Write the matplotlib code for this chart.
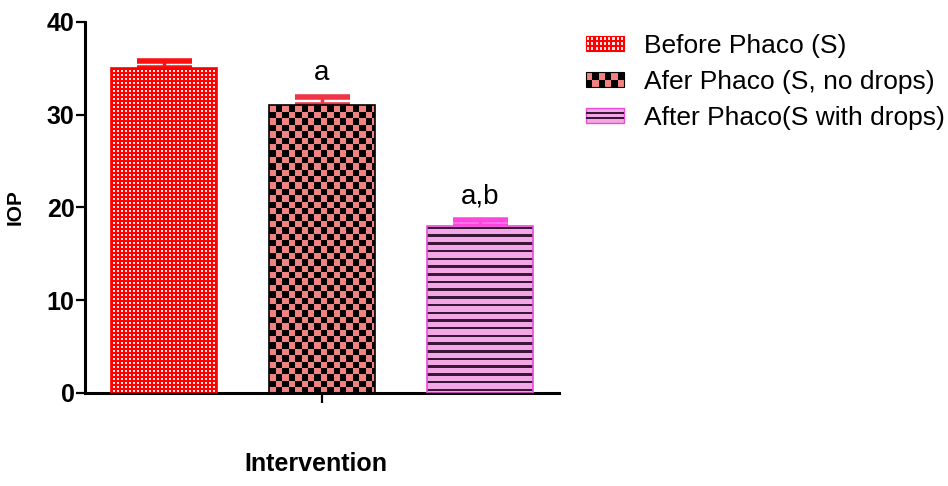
import numpy as np
import matplotlib.pyplot as plt
from matplotlib.patches import Rectangle
from matplotlib.legend_handler import HandlerBase
from matplotlib.colors import to_rgb

plt.rcParams['font.family'] = ['Liberation Sans', 'DejaVu Sans']

# data
groups = ['Before Phaco (S)', 'Afer Phaco (S, no drops)', 'After Phaco(S with drops)']
iop_mean = [35.0, 31.0, 18.0]
iop_err = [0.8, 0.9, 0.6]
letters = ['', 'a', 'a,b']

# styles
patterns = ['fine', 'checker', 'lines']
edge_cols = ['#ff0000', '#000000', '#e64fd6']
err_cols = ['#ff1010', '#f23545', '#ff45e0']


def make_pattern(kind, w, h):
    """rgb image, one cell per screen pixel, row 0 = top"""
    yy, xx = np.mgrid[0:h, 0:w]
    img = np.zeros((h, w, 3))
    if kind == 'fine':
        a, b = np.array(to_rgb('#ff0000')), np.array(to_rgb('#ffe6e6'))
        m = ((xx % 4) >= 2) & ((yy % 4) >= 2)
    elif kind == 'checker':
        a, b = np.array(to_rgb('#f08282')), np.array(to_rgb('#000000'))
        m = ((xx // 6.4).astype(int) + (yy // 6.4).astype(int)) % 2 == 1
    else:
        a, b = np.array(to_rgb('#f2a8e6')), np.array(to_rgb('#3c1636'))
        m = ((yy - 8) % 7.7) < 2.5
    img[:] = a
    img[m] = b
    return img


class PatternHandler(HandlerBase):
    def create_artists(self, legend, orig_handle, xdescent, ydescent,
                       width, height, fontsize, trans):
        kind = orig_handle.kind
        x0, y0 = -xdescent, -ydescent
        arts = []
        if kind == 'fine':
            arts.append(Rectangle((x0, y0), width, height, fc='#ff0000', ec='#ff0000', lw=0.8))
            nx, ny = 9, 3
            dx, dy = width / nx, height / ny
            for i in range(nx):
                for j in range(ny):
                    arts.append(Rectangle((x0 + i * dx + dx * 0.3, y0 + j * dy + dy * 0.3),
                                          dx * 0.5, dy * 0.5, fc='#ffe6e6', lw=0))
        elif kind == 'checker':
            arts.append(Rectangle((x0, y0), width, height, fc='#f08282', ec='#000000', lw=0.8))
            nx, ny = 6, 2
            dx, dy = width / nx, height / ny
            for i in range(nx):
                for j in range(ny):
                    if (i + j) % 2 == 0:
                        arts.append(Rectangle((x0 + i * dx, y0 + j * dy), dx, dy, fc='#000000', lw=0))
        else:
            arts.append(Rectangle((x0, y0), width, height, fc='#f2a8e6', ec='#e64fd6', lw=1.0))
            for f in [1 / 3, 2 / 3]:
                arts.append(Rectangle((x0, y0 + height * f - 0.9), width, 1.8, fc='#3c1636', lw=0))
        for a in arts:
            a.set_transform(trans)
        return arts


fig = plt.figure(figsize=(9.48, 4.86), dpi=100)
ax = fig.add_axes([0.0897, 0.1914, 0.5, 0.7634])

x = np.arange(len(groups))
bw = 0.67
ax.set_xlim(-0.5, 2.5)
ax.set_ylim(0, 40)

bars = ax.bar(x, iop_mean, width=bw, color='none', edgecolor=edge_cols, linewidth=1.2, zorder=3)

for i, b in enumerate(bars):
    x0, x1 = x[i] - bw / 2, x[i] + bw / 2
    p0 = ax.transData.transform((x0, 0))
    p1 = ax.transData.transform((x1, iop_mean[i]))
    w_px = int(round(p1[0] - p0[0]))
    h_px = int(round(p1[1] - p0[1]))
    im = ax.imshow(make_pattern(patterns[i], w_px, h_px), extent=(x0, x1, 0, iop_mean[i]),
                   aspect='auto', interpolation='nearest', zorder=2)
    im.set_clip_path(b)

    ax.errorbar(x[i], iop_mean[i], yerr=[[0], [iop_err[i]]], fmt='none', ecolor=err_cols[i],
                elinewidth=2.5, capsize=19.8, capthick=4.0, zorder=1)
    if letters[i]:
        ax.text(x[i], iop_mean[i] + iop_err[i] + 1.8, letters[i], ha='center', va='baseline',
                fontsize=20)

ax.set_xlim(-0.5, 2.5)
ax.set_ylim(0, 40)

for s in ['top', 'right']:
    ax.spines[s].set_visible(False)
for s in ['left', 'bottom']:
    ax.spines[s].set_linewidth(2.2)

ax.set_yticks([0, 10, 20, 30, 40])
ax.tick_params(axis='y', length=6.5, width=1.6, pad=1, labelsize=18)
for t in ax.get_yticklabels():
    t.set_fontweight('bold')
ax.set_xticks([1])
ax.set_xticklabels([''])
ax.tick_params(axis='x', length=7, width=1.6)

ax.set_ylabel('IOP', fontsize=15, fontweight='bold')
ax.yaxis.set_label_coords(-0.128, 0.5)
ax.set_xlabel('Intervention', fontsize=18, fontweight='bold')
ax.xaxis.set_label_coords(0.488, -0.158)

handles = []
for k, lab in zip(patterns, groups):
    h = Rectangle((0, 0), 1, 1, label=lab)
    h.kind = k
    handles.append(h)
fig.legend(handles=handles, labels=groups, handler_map={Rectangle: PatternHandler()},
           loc='upper left', bbox_to_anchor=(0.618, 0.930), frameon=False, fontsize=19,
           borderpad=0, borderaxespad=0, handlelength=1.44, handleheight=0.53,
           handletextpad=0.78, labelspacing=0.45)

fig.savefig('out.png', dpi=100)
